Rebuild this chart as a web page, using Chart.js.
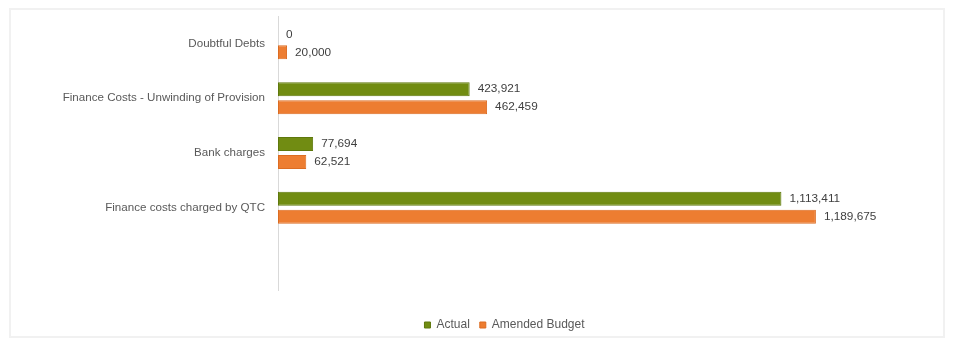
<!DOCTYPE html>
<html>
<head>
<meta charset="utf-8">
<script src="https://cdn.jsdelivr.net/npm/chart.js@4/dist/chart.umd.min.js"></script>
<style>
  html, body { margin: 0; padding: 0; background: #fff; }
  #wrap { position: relative; width: 958px; height: 354px; }
  #frame { position: absolute; left: 9px; top: 8px; width: 936px; height: 330px; border: 2px solid #f1f1f1; box-sizing: border-box; }
  canvas { position: absolute; left: 0; top: 0; }
</style>
</head>
<body>
<div id="wrap">
  <div id="frame"></div>
  <canvas id="costChart" width="958" height="354"></canvas>
</div>
<script>
// finance cost lines (last row left blank, as in the source sheet)
const categories = ['Doubtful Debts', 'Finance Costs - Unwinding of Provision', 'Bank charges', 'Finance costs charged by QTC', ''];
const actual = [0, 423921, 77694, 1113411, null];
const amendedBudget = [20000, 462459, 62521, 1189675, null];
const xMax = 1400000;

const textColor = '#595959';
const fontFamily = "'Liberation Sans', Arial, sans-serif";

// writes each bar's value just past its end
const valueLabels = {
  id: 'valueLabels',
  afterDatasetsDraw(chart) {
    const ctx = chart.ctx;
    ctx.save();
    ctx.font = '11.8px ' + fontFamily;
    ctx.fillStyle = '#404040';
    ctx.textAlign = 'left';
    ctx.textBaseline = 'middle';
    chart.data.datasets.forEach((ds, i) => {
      chart.getDatasetMeta(i).data.forEach((bar, j) => {
        const v = ds.data[j];
        if (v === null || v === undefined) return;
        ctx.fillText(v.toLocaleString('en-US'), bar.x + 8, bar.y);
      });
    });
    ctx.restore();
  }
};

// legend sits a little right of the canvas centre
const legendShift = {
  id: 'legendShift',
  afterLayout(chart) {
    chart.legend.left += 49;
    chart.legend.right += 49;
  }
};

const ctx = document.getElementById('costChart').getContext('2d');
const costChart = new Chart(ctx, {
  type: 'bar',
  data: {
    labels: categories,
    datasets: [
      {
        label: 'Actual',
        data: actual,
        backgroundColor: '#718c12',
        borderColor: '#5e780c',
        borderWidth: 1,
        borderSkipped: false
      },
      {
        label: 'Amended Budget',
        data: amendedBudget,
        backgroundColor: '#ed7d31',
        borderColor: '#dc6c22',
        borderWidth: 1,
        borderSkipped: false
      }
    ]
  },
  options: {
    indexAxis: 'y',
    responsive: false,
    animation: false,
    categoryPercentage: 0.655,
    barPercentage: 0.78,
    layout: { padding: { top: 16, right: 47, bottom: 13, left: 0 } },
    scales: {
      x: {
        min: 0,
        max: xMax,
        grid: { display: false },
        border: { display: false },
        ticks: { display: false },
        afterFit: (scale) => { scale.height = 19; }
      },
      y: {
        grid: { display: false, drawTicks: false },
        border: { display: true, color: '#d9d9d9', width: 1 },
        ticks: {
          color: textColor,
          padding: 13,
          font: { size: 11.6, family: fontFamily }
        },
        afterFit: (scale) => {
          scale.width = 278;
          scale.paddingTop = 0;
          scale.paddingBottom = 0;
        }
      }
    },
    plugins: {
      legend: {
        position: 'bottom',
        labels: {
          boxWidth: 6,
          boxHeight: 6,
          padding: 10,
          color: textColor,
          font: { size: 12, family: fontFamily }
        }
      },
      tooltip: { enabled: false }
    }
  },
  plugins: [valueLabels, legendShift]
});
</script>
</body>
</html>
